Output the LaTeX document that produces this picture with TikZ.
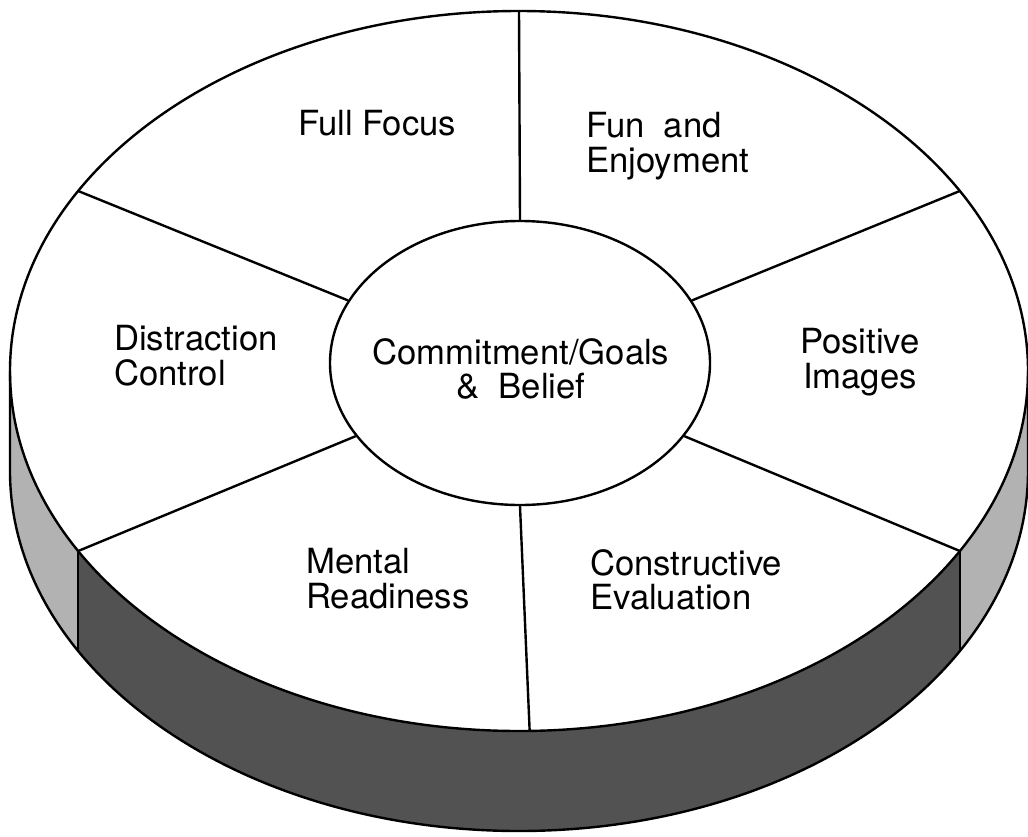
\documentclass[tikz,border=0pt]{standalone}
\usepackage{fontspec}
\setmainfont{TeX Gyre Heros}
\usetikzlibrary{shapes.geometric}

\tikzset{every picture/.style={line width=1.8pt}}
\tikzset{
  lbl/.style={inner sep=0pt, align=left, font=\fontsize{26}{26}\selectfont},
  lightside/.style={fill=black!30},
  darkside/.style={fill=black!68},
  rim/.style={x radius=509, y radius=360},
}

\begin{document}
\begin{tikzpicture}[x=0.75pt,y=0.75pt,yscale=-1,xscale=1]
    \useasboundingbox (0,0) rectangle (1028,836);

    % points on the rim of the disc
    \coordinate (rimW) at (10,371);
    \coordinate (rimE) at (1028,371);
    \coordinate (rimN) at (519,11);
    \coordinate (rimS) at ({519+509*cos(88.8)},{371+360*sin(88.8)});
    \coordinate (rimNW) at ({519+509*cos(210)},{371+360*sin(210)});
    \coordinate (rimNE) at ({519+509*cos(330)},{371+360*sin(330)});
    \coordinate (rimSW) at ({519+509*cos(150)},{371+360*sin(150)});
    \coordinate (rimSE) at ({519+509*cos(30)},{371+360*sin(30)});

    %Shape: side of the disc, front
    \fill[darkside] (rimSW) arc[start angle=150, end angle=30, rim] -- ++(0,100)
        arc[start angle=30, end angle=150, rim] -- cycle;
    %Shape: side of the disc, left
    \fill[lightside] (rimW) arc[start angle=180, end angle=150, rim] -- ++(0,100)
        arc[start angle=150, end angle=180, rim] -- cycle;
    %Shape: side of the disc, right
    \fill[lightside] (rimSE) arc[start angle=30, end angle=0, rim] -- ++(0,100)
        arc[start angle=0, end angle=30, rim] -- cycle;

    %Shape: outline of the side
    \draw (rimW) -- ++(0,100) arc[start angle=180, end angle=0, rim] -- (rimE);
    \draw (rimSW) -- ++(0,100);
    \draw (rimSE) -- ++(0,100);

    %Shape: Ellipse, top of the disc
    \draw (519,371) ellipse [rim];

    %Shape: Ellipse, centre
    \node[ellipse, draw, minimum width=285pt, minimum height=213pt, inner sep=0pt] (core) at (520,363) {};

    % spokes
    \draw (core.north) -- (rimN);
    \draw (core.160) -- (rimNW);
    \draw (core.20) -- (rimNE);
    \draw (core.204) -- (rimSW);
    \draw (core.336) -- (rimSE);
    \draw (core.south) -- (rimS);

    % Text Node
    \node[lbl, anchor=north, align=center] (goals) at (521,337) {Commitment/Goals\\\&\ \ Belief};
    % Text Node
    \node[lbl, anchor=north west] (focus) at (297,109) {Full Focus};
    % Text Node
    \node[lbl, anchor=north west] (fun) at (585,111) {Fun\ \ and\\Enjoyment};
    % Text Node
    \node[lbl, anchor=north west] (distraction) at (113,324) {Distraction\\Control};
    % Text Node
    \node[lbl, anchor=north, align=center] (images) at (860,327) {Positive\\Images};
    % Text Node
    \node[lbl, anchor=north west] (readiness) at (305,547) {Mental\\Readiness};
    % Text Node
    \node[lbl, anchor=north west] (evaluation) at (589,548) {Constructive\\Evaluation};

\end{tikzpicture}
\end{document}
